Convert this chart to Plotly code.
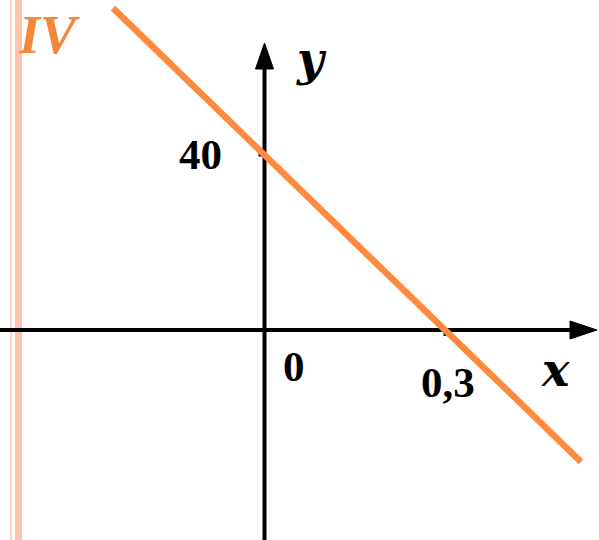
import plotly.graph_objects as go

# ---- data ----
x_intercept = 0.3
y_intercept = 40
line_x = [-0.2518, 0.526]
slope = -y_intercept / x_intercept
line_y = [y_intercept + slope * v for v in line_x]
tick_labels = {"y": "40", "x": "0,3", "origin": "0"}
panel_label = "IV"

# ---- scales (pixel mapping) ----
W, H = 599, 540
ox, oy = 264.5, 330.0          # origin in pixels
px_per_x = 601.7               # pixels per 1 x-unit
px_per_y = 4.375               # pixels per 1 y-unit
x_range = [(0 - ox) / px_per_x, (W - ox) / px_per_x]
y_range = [(oy - H) / px_per_y, (oy - 0) / px_per_y]

def dx(p):  # pixel x -> data x
    return (p - ox) / px_per_x

def dy(p):  # pixel y -> data y
    return (oy - p) / px_per_y

fig = go.Figure()

# axes lines
fig.add_trace(go.Scatter(x=[x_range[0], dx(575)], y=[0, 0], mode="lines",
                         line=dict(color="black", width=4), hoverinfo="skip"))
fig.add_trace(go.Scatter(x=[0, 0], y=[y_range[0], dy(65)], mode="lines",
                         line=dict(color="black", width=4), hoverinfo="skip"))
# arrow heads
fig.add_trace(go.Scatter(x=[dx(597), dx(570), dx(570), dx(597)],
                         y=[0, dy(oy - 9), dy(oy + 9), 0],
                         mode="lines", fill="toself", fillcolor="black",
                         line=dict(color="black", width=1), hoverinfo="skip"))
fig.add_trace(go.Scatter(x=[0, dx(ox - 9), dx(ox + 9), 0],
                         y=[dy(43), dy(69), dy(69), dy(43)],
                         mode="lines", fill="toself", fillcolor="black",
                         line=dict(color="black", width=1), hoverinfo="skip"))
# ticks
fig.add_trace(go.Scatter(x=[dx(ox - 6), 0], y=[y_intercept, y_intercept], mode="lines",
                         line=dict(color="black", width=3), hoverinfo="skip"))
fig.add_trace(go.Scatter(x=[x_intercept, x_intercept], y=[0, dy(oy + 6)], mode="lines",
                         line=dict(color="black", width=3), hoverinfo="skip"))

# main line
fig.add_trace(go.Scatter(x=line_x, y=line_y, mode="lines",
                         line=dict(color="#FF8A3D", width=6.5), hoverinfo="skip"))

serif = "Liberation Serif"
ann = [
    dict(x=dx(200), y=dy(154), text="<b>" + tick_labels["y"] + "</b>", size=43, fam=serif),
    dict(x=dx(294), y=dy(366), text="<b>" + tick_labels["origin"] + "</b>", size=43, fam=serif),
    dict(x=dx(448), y=dy(382), text="<b>" + tick_labels["x"] + "</b>", size=43, fam=serif),
    dict(x=dx(555), y=dy(370), text="<b><i>x</i></b>", size=46, fam="DejaVu Serif"),
    dict(x=dx(311), y=dy(59), text="<b><i>y</i></b>", size=46, fam="DejaVu Serif"),
    dict(x=dx(49), y=dy(35), text="<b><i>" + panel_label + "</i></b>", size=54, color="#F5873A", fam=serif),
]
for a in ann:
    fig.add_annotation(x=a["x"], y=a["y"], xref="x", yref="y", text=a["text"],
                       showarrow=False, xanchor="center", yanchor="middle",
                       font=dict(family=a["fam"], size=a["size"], color=a.get("color", "black")))

# left pale stripes
fig.add_shape(type="rect", xref="paper", yref="paper", x0=10 / W, x1=12 / W, y0=0, y1=1,
              fillcolor="#FFD3C5", line=dict(width=0), layer="below")
fig.add_shape(type="rect", xref="paper", yref="paper", x0=15 / W, x1=22 / W, y0=0, y1=1,
              fillcolor="#FFC3B0", line=dict(width=0), layer="below")

fig.update_layout(
    width=W, height=H, autosize=False,
    margin=dict(l=0, r=0, t=0, b=0),
    paper_bgcolor="white", plot_bgcolor="white",
    showlegend=False,
    xaxis=dict(range=x_range, visible=False, fixedrange=True),
    yaxis=dict(range=y_range, visible=False, fixedrange=True),
)
fig.write_html("out.html", post_script="document.body.style.margin='0';document.body.style.overflow='hidden';",
               config={"displayModeBar": False})
